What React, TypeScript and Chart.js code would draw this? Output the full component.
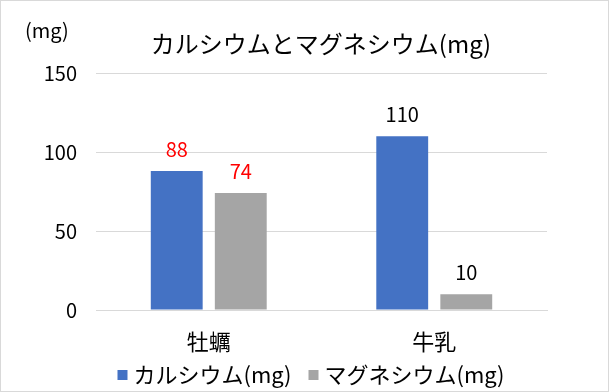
import React, { useEffect, useRef } from "react";
import { Chart, registerables } from "chart.js";

Chart.register(...registerables);

const categories = ["牡蠣", "牛乳"];
const calcium = [88, 110];
const magnesium = [74, 10];
const seriesNames = ["カルシウム(mg)", "マグネシウム(mg)"];
const seriesColors = ["#4472C4", "#A5A5A5"];
const labelColorsByCategory = ["#FF0000", "#000000"];
const titleText = "カルシウムとマグネシウム(mg)";
const unitText = "(mg)";
const yTicks = [0, 50, 100, 150];

const FONT = "'Noto Sans CJK JP', 'Noto Sans', sans-serif";

const W = 609;
const H = 392;

const decorPlugin = {
  id: "decor",
  beforeDraw(chart: any) {
    const ctx = chart.ctx;
    ctx.save();
    ctx.fillStyle = "#ffffff";
    ctx.fillRect(0, 0, chart.width, chart.height);
    ctx.restore();
  },
  afterDraw(chart: any) {
    const ctx = chart.ctx;
    ctx.save();
    // border
    ctx.strokeStyle = "#D9D9D9";
    ctx.lineWidth = 1;
    ctx.strokeRect(0.5, 0.5, chart.width - 1, chart.height - 1);
    // title
    ctx.fillStyle = "#000000";
    ctx.font = `24px ${FONT}`;
    ctx.textAlign = "center";
    ctx.textBaseline = "middle";
    ctx.fillText(titleText, 321, 44);
    // unit
    ctx.font = `20px ${FONT}`;
    ctx.textAlign = "left";
    ctx.fillText(unitText, 25, 30);
    // data labels
    ctx.font = `20px ${FONT}`;
    ctx.textAlign = "center";
    chart.data.datasets.forEach((ds: any, di: number) => {
      const meta = chart.getDatasetMeta(di);
      meta.data.forEach((el: any, i: number) => {
        ctx.fillStyle = labelColorsByCategory[i];
        ctx.fillText(String(ds.data[i]), el.x, el.y - 21.5);
      });
    });
    // legend
    ctx.font = `22px ${FONT}`;
    ctx.textBaseline = "middle";
    ctx.textAlign = "left";
    const box = 10;
    const gapBoxText = 6;
    const gapItems = 17;
    const widths = chart.data.datasets.map((ds: any) => box + gapBoxText + ctx.measureText(ds.label).width);
    const total = widths.reduce((a: number, b: number) => a + b, 0) + gapItems * (widths.length - 1);
    let x = 311 - total / 2;
    const ly = 375;
    chart.data.datasets.forEach((ds: any, di: number) => {
      ctx.fillStyle = ds.backgroundColor;
      ctx.fillRect(x, ly - box / 2, box, box);
      ctx.fillStyle = "#000000";
      ctx.fillText(ds.label, x + box + gapBoxText, ly);
      x += widths[di] + gapItems;
    });
    ctx.restore();
  },
};

export default function App() {
  const ref = useRef<HTMLCanvasElement | null>(null);
  useEffect(() => {
    document.body.style.margin = "0";
    const canvas = ref.current;
    if (!canvas) return;
    const chart = new Chart(canvas, {
      type: "bar",
      data: {
        labels: categories,
        datasets: [
          { label: seriesNames[0], data: calcium, backgroundColor: seriesColors[0] },
          { label: seriesNames[1], data: magnesium, backgroundColor: seriesColors[1] },
        ],
      },
      options: {
        responsive: false,
        animation: false,
        devicePixelRatio: 1,
        layout: { padding: { top: 73, right: 62, bottom: 0, left: 0 } },
        datasets: {
          bar: { categoryPercentage: 0.568, barPercentage: 0.81 },
        },
        plugins: {
          legend: { display: false },
          title: { display: false },
          tooltip: { enabled: false },
        },
        scales: {
          x: {
            grid: { display: false, drawTicks: false },
            border: { display: true, color: "#D9D9D9" },
            ticks: { color: "#000000", font: { family: FONT, size: 22 }, padding: 18 },
            afterFit: (scale: any) => {
              scale.height = 82;
            },
          },
          y: {
            min: 0,
            max: 150,
            afterBuildTicks: (scale: any) => {
              scale.ticks = yTicks.map((v) => ({ value: v }));
            },
            grid: { color: "#D9D9D9", drawTicks: false },
            border: { display: false },
            ticks: { color: "#000000", font: { family: FONT, size: 20 }, padding: 19 },
            afterFit: (scale: any) => {
              scale.width = 96;
            },
          },
        },
      },
      plugins: [decorPlugin],
    });
    return () => chart.destroy();
  }, []);
  return (
    <div style={{ position: "fixed", left: 0, top: 0, width: W, height: H }}>
      <canvas ref={ref} width={W} height={H} style={{ width: W, height: H, display: "block" }} />
    </div>
  );
}
